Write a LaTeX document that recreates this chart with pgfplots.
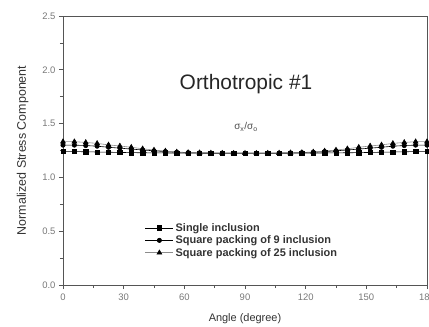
\documentclass[border=0pt]{standalone}
\usepackage{pgfplots}
\pgfplotsset{compat=1.18}
\usepackage{fontspec}
\setmainfont{Liberation Sans}
\definecolor{axgray}{RGB}{85,85,85}
\definecolor{lblgray}{RGB}{120,120,120}
\pgfplotstableread{
x s n t
0 1.240 1.300 1.332
5.625 1.240 1.300 1.332
11.25 1.238 1.296 1.325
16.875 1.236 1.290 1.316
22.5 1.234 1.280 1.302
28.125 1.232 1.272 1.292
33.75 1.230 1.263 1.280
39.375 1.229 1.255 1.266
45 1.228 1.247 1.254
50.625 1.227 1.240 1.245
56.25 1.226 1.234 1.236
61.875 1.225 1.230 1.231
67.5 1.225 1.228 1.228
73.125 1.224 1.226 1.226
78.75 1.224 1.225 1.225
84.375 1.224 1.224 1.224
90 1.224 1.224 1.224
95.625 1.224 1.224 1.224
101.25 1.224 1.225 1.225
106.875 1.224 1.226 1.226
112.5 1.225 1.228 1.228
118.125 1.225 1.230 1.231
123.75 1.226 1.234 1.236
129.375 1.227 1.240 1.245
135 1.228 1.247 1.254
140.625 1.229 1.255 1.266
146.25 1.230 1.263 1.280
151.875 1.232 1.272 1.292
157.5 1.234 1.280 1.302
163.125 1.236 1.290 1.316
168.75 1.238 1.296 1.325
174.375 1.240 1.300 1.332
180 1.240 1.300 1.332
}\data
\begin{document}
\begin{tikzpicture}
\begin{axis}[
  scale only axis, width=364bp, height=269bp,
  xmin=0, xmax=180, ymin=0, ymax=2.5,
  xtick={0,30,...,180}, minor x tick num=1,
  ytick={0,0.5,...,2.5}, minor y tick num=1,
  yticklabel style={/pgf/number format/.cd,fixed,fixed zerofill,precision=1},
  /pgf/number format/assume math mode=true,
  tick label style={font=\fontsize{9.5}{11}\selectfont, text=lblgray},
  xticklabel style={yshift=-1bp},
  axis line style={axgray, line width=0.8pt},
  tick style={axgray, line width=0.7pt},
  tick align=outside, major tick length=4bp, minor tick length=3bp,
  xtick pos=bottom, ytick pos=left,
  xlabel={Angle (degree)}, ylabel={Normalized Stress Component},
  xlabel style={font=\fontsize{11}{13}\selectfont, text=black!80, yshift=-6bp},
  ylabel style={font=\fontsize{12.5}{14}\selectfont, text=black!80, yshift=7bp},
  legend style={at={(axis cs:40.5,0.52)}, anchor=north west, draw=none, fill=none,
    font=\bfseries\fontsize{11}{13}\selectfont, text=black!80, row sep=-1bp, inner sep=0pt,
    yshift=8bp},
  legend cell align=left,
  legend image code/.code={\draw[mark repeat=2,mark phase=2,#1] plot coordinates {(0bp,0bp) (14bp,0bp) (28bp,0bp)};},
]
\addplot[black, line width=0.6pt, mark=square*, mark size=2.2pt] table[x=x,y=s] {\data};
\addlegendentry{Single inclusion}
\addplot[black, line width=0.6pt, mark=*, mark size=2.2pt] table[x=x,y=n] {\data};
\addlegendentry{Square packing of 9 inclusion}
\addplot[black!45, line width=0.6pt, mark=triangle*, mark size=2.8pt, mark options={black}] table[x=x,y=t] {\data};
\addlegendentry{Square packing of 25 inclusion}
\node[font=\fontsize{21}{24}\selectfont, text=black!85] at (axis cs:90.5,1.87) {Orthotropic \#1};
\node[font=\fontsize{10}{12}\selectfont, text=black!70] at (axis cs:90.5,1.47) {σ\textsubscript{x}/σ\textsubscript{o}};
\end{axis}
\pgfresetboundingbox
\path[use as bounding box] (-63bp,-42bp) rectangle (366bp,285bp);
\end{tikzpicture}
\end{document}
